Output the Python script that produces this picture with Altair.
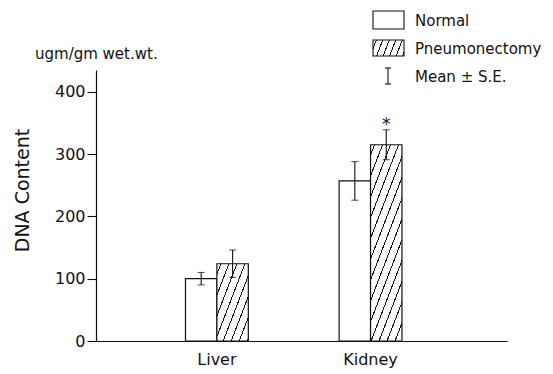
import math
import altair as alt
import pandas as pd

# ---- data ----
organs = ["Liver", "Kidney"]
groups = ["Normal", "Pneumonectomy"]
normal_mean = [100, 257]
normal_se = [10, 31]
pneumo_mean = [124, 315]
pneumo_se = [22, 24]
signif = ["", "*"]
y_ticks = [0, 100, 200, 300, 400]
y_max = 435
legend_labels = ["Normal", "Pneumonectomy", "Mean \u00b1 S.E."]
y_title = "DNA Content"
unit_label = "ugm/gm  wet.wt."

rows = []
for i, o in enumerate(organs):
    rows.append(dict(organ=o, group=groups[0], mean=normal_mean[i],
                     lo=normal_mean[i] - normal_se[i], hi=normal_mean[i] + normal_se[i], sig=""))
    rows.append(dict(organ=o, group=groups[1], mean=pneumo_mean[i],
                     lo=pneumo_mean[i] - pneumo_se[i], hi=pneumo_mean[i] + pneumo_se[i], sig=signif[i]))
df = pd.DataFrame(rows)

# ---- layout ----
PW, PH = 411, 271
P_IN, P_OUT, ALIGN = 0.591, 0.633, 0.46
step = PW / (len(organs) - P_IN + 2 * P_OUT)
sub_w = step * (1 - P_IN) / len(groups)
INK = "#111111"
FONT = "DejaVu Sans"


def hatch(W, H, s=2.6, h=8.0, lw=1.0):
    """Diagonal '/' hatch as a hard-stop linear gradient in bbox units."""
    k = (s * W + H) / (s * s * W * W + H * H)
    a, b = s * W * k, H * k
    span = (s * W + H) / math.sqrt(s * s + 1)
    p = h * s / math.sqrt(s * s + 1)
    dt, w = p / span, lw / span
    stops = [alt.GradientStop(offset=0, color="white")]
    c = dt * 0.5
    last = 0.0
    while c < 1:
        lo_, hi_ = max(last, c - w / 2), min(1, c + w / 2)
        stops += [alt.GradientStop(offset=lo_, color="white"),
                  alt.GradientStop(offset=lo_, color=INK),
                  alt.GradientStop(offset=hi_, color=INK),
                  alt.GradientStop(offset=hi_, color="white")]
        last = hi_
        c += dt
    stops.append(alt.GradientStop(offset=1, color="white"))
    return alt.LinearGradient(gradient="linear", stops=stops, x1=0, y1=0, x2=a, y2=b)


x_scale = alt.Scale(domain=organs, paddingInner=P_IN, paddingOuter=P_OUT, align=ALIGN)
xo_scale = alt.Scale(domain=groups, paddingInner=0, paddingOuter=0)
y_scale = alt.Scale(domain=[0, y_max], nice=False, zero=True)

x_axis = alt.Axis(title=None, ticks=False, labelAngle=0, labelPadding=10, labelFontSize=16,
                  labelColor=INK, domainColor=INK, domainWidth=1.2, labelFont=FONT)
y_axis = alt.Axis(values=y_ticks, title=y_title, grid=False, tickSize=9, tickColor=INK,
                  tickWidth=1.1, domainColor=INK, domainWidth=1.2, labelFontSize=16,
                  labelColor=INK, labelPadding=2, labelFont=FONT,
                  titleX=-74, titleY=120, titleAngle=270, titleAlign="center",
                  titleBaseline="middle", titleFontSize=19, titleFontWeight="normal",
                  titleColor=INK, titleFont=FONT)


def X():
    return alt.X("organ:N", scale=x_scale, axis=x_axis)


def XO():
    return alt.XOffset("group:N", scale=xo_scale)


def Y(field):
    return alt.Y(field, scale=y_scale, axis=y_axis)


base = alt.Chart(df)

layers = []
layers.append(base.transform_filter(alt.datum.group == groups[0])
              .mark_bar(fill="white", stroke=INK, strokeWidth=1.2)
              .encode(x=X(), xOffset=XO(), y=Y("mean:Q")))
for i, o in enumerate(organs):
    H = pneumo_mean[i] / y_max * PH
    layers.append(base.transform_filter((alt.datum.group == groups[1]) & (alt.datum.organ == o))
                  .mark_bar(fill=hatch(sub_w, H), stroke=INK, strokeWidth=1.2)
                  .encode(x=X(), xOffset=XO(), y=Y("mean:Q")))

layers.append(base.mark_rule(color=INK, strokeWidth=1.1)
              .encode(x=X(), xOffset=XO(), y=Y("lo:Q"), y2="hi:Q"))
layers.append(base.mark_tick(color=INK, size=7, thickness=1.1)
              .encode(x=X(), xOffset=XO(), y=Y("lo:Q")))
layers.append(base.mark_tick(color=INK, size=7, thickness=1.1)
              .encode(x=X(), xOffset=XO(), y=Y("hi:Q")))
layers.append(base.mark_text(fontSize=17, color=INK, baseline="middle", dy=-5, font=FONT)
              .encode(x=X(), xOffset=XO(), y=Y("hi:Q"), text="sig:N"))

one = alt.Chart(pd.DataFrame({"k": [0]}))
# legend
layers.append(one.mark_rect(fill="white", stroke=INK, strokeWidth=1.1)
              .encode(x=alt.value(277), x2=alt.value(308), y=alt.value(-59), y2=alt.value(-41)))
layers.append(one.mark_rect(fill=hatch(31, 16, h=6.5), stroke=INK, strokeWidth=1.1)
              .encode(x=alt.value(277), x2=alt.value(308), y=alt.value(-30), y2=alt.value(-14)))
layers.append(one.mark_rule(color=INK, strokeWidth=1.1)
              .encode(x=alt.value(292), y=alt.value(-2), y2=alt.value(14)))
layers.append(one.mark_rule(color=INK, strokeWidth=1.1)
              .encode(x=alt.value(289), x2=alt.value(295), y=alt.value(-2)))
layers.append(one.mark_rule(color=INK, strokeWidth=1.1)
              .encode(x=alt.value(289), x2=alt.value(295), y=alt.value(14)))
for lab, yy in zip(legend_labels, [-49, -21, 7]):
    layers.append(one.mark_text(align="left", baseline="middle", fontSize=15, color=INK, font=FONT)
                  .encode(x=alt.value(319), y=alt.value(yy), text=alt.value(lab)))
# unit label
layers.append(one.mark_text(align="left", baseline="middle", fontSize=15, color=INK, font=FONT)
              .encode(x=alt.value(-61), y=alt.value(-16), text=alt.value(unit_label)))

chart = (alt.layer(*layers)
         .properties(width=PW, height=PH,
                     padding={"left": 88, "top": 62, "right": 38, "bottom": 30},
                     autosize=alt.AutoSizeParams(type="none"))
         .configure(font=FONT)
         .configure_view(stroke=None))

chart.save("out.html", embed_options={"renderer": "svg", "actions": False})
